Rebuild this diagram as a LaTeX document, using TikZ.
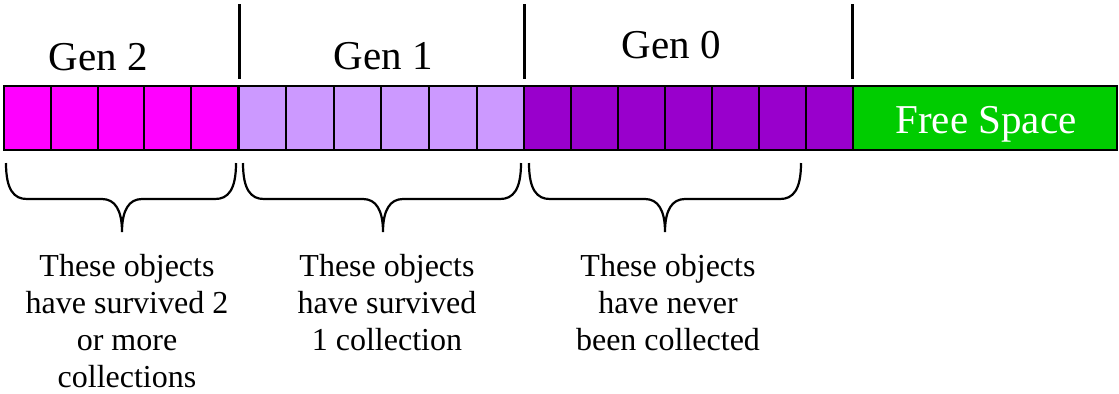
\documentclass[tikz,border=0pt]{standalone}
\usepackage{fontspec}
\setmainfont{LiberationSerif-Regular.ttf}
\definecolor{gentwocol}{HTML}{FF00FF}
\definecolor{genonecol}{HTML}{CC99FF}
\definecolor{genzerocol}{HTML}{9900CC}
\definecolor{freecol}{HTML}{00CC00}
\tikzset{
  cell/.style={draw=black, line width=1pt},
  gentwo/.style={cell, fill=gentwocol},
  genone/.style={cell, fill=genonecol},
  genzero/.style={cell, fill=genzerocol},
  freesp/.style={cell, fill=freecol},
  gensep/.style={draw=black, line width=1.2pt},
  genbrace/.style={draw=black, line width=1.1pt},
  genlabel/.style={font=\rmfamily\fontsize{20.5}{24}\selectfont, inner sep=0pt, anchor=base},
  note/.style={font=\rmfamily\fontsize{16}{18.5}\selectfont, align=center, inner sep=0pt, anchor=north},
}
% curly brace lying on its side: left end, tip, right end
\newcommand{\gcbrace}[3]{%
  \draw[genbrace] (#1,163) .. controls (#1,190) and (#1+8,199) .. (#1+21,199)
    -- (#2-20,199) .. controls (#2-7,199) and (#2,210) .. (#2,232)
    .. controls (#2,210) and (#2+7,199) .. (#2+20,199)
    -- (#3-21,199) .. controls (#3-8,199) and (#3,190) .. (#3,163);
}

\begin{document}
\begin{tikzpicture}[x=0.5pt, y=-0.5pt]
\useasboundingbox (0,0) rectangle (1119,393);
% heap cells
\foreach \i in {0,...,4}
  \draw[gentwo] ({4+46.8*\i},86) rectangle ({4+46.8*(\i+1)},149.5);
\foreach \i in {0,...,5}
  \draw[genone] ({238.5+47.6*\i},86) rectangle ({238.5+47.6*(\i+1)},149.5);
\foreach \i in {0,...,6}
  \draw[genzero] ({524+47*\i},86) rectangle ({524+47*(\i+1)},149.5);
\draw[freesp] (853,86) rectangle (1117,149.5);
\node[genlabel, text=white] (free) at (986,133) {Free Space};
% generation boundaries
\coordinate (s1t) at (239.5,4);  \coordinate (s1b) at (239.5,79);
\coordinate (s2t) at (524.5,4);  \coordinate (s2b) at (524.5,79);
\coordinate (s3t) at (852.5,4);  \coordinate (s3b) at (852.5,79);
\draw[gensep] (s1t) -- (s1b);
\draw[gensep] (s2t) -- (s2b);
\draw[gensep] (s3t) -- (s3b);
\node[genlabel] (gen2) at (98,70) {Gen 2};
\node[genlabel] (gen1) at (383,69) {Gen 1};
\node[genlabel] (gen0) at (671,58) {Gen 0};
% braces and notes
\gcbrace{6}{122}{236}
\gcbrace{243}{383}{521}
\gcbrace{529}{665}{801}
\node[note] (note2) at (127,254) {These objects\\have survived 2\\or more\\collections};
\node[note] (note1) at (387,254) {These objects\\have survived\\1 collection};
\node[note] (note0) at (668,254) {These objects\\have never\\been collected};
\end{tikzpicture}
\end{document}
